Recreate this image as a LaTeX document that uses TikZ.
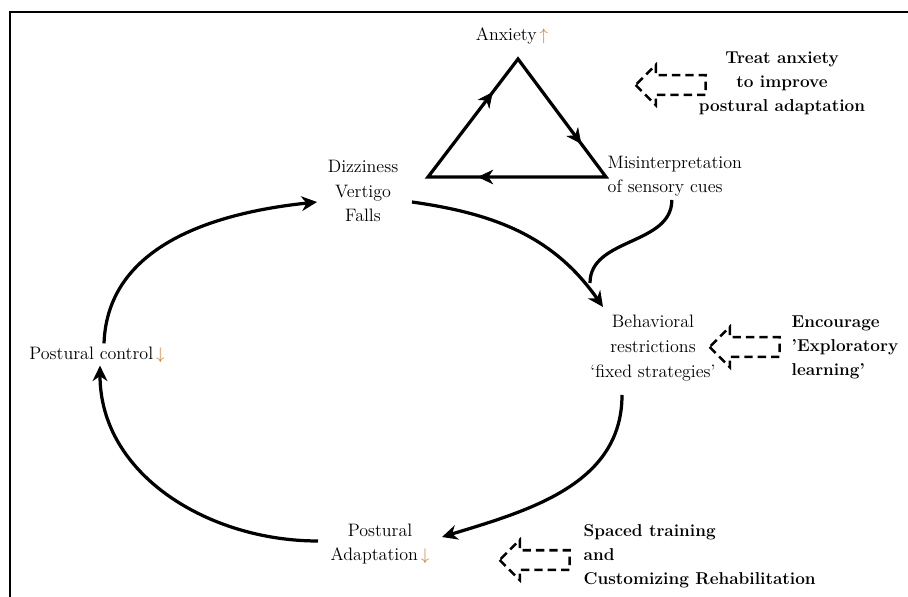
\documentclass[tikz,border=0pt]{standalone}
\usetikzlibrary{calc,arrows.meta,shapes.arrows,decorations.markings}
\definecolor{trendorange}{RGB}{200,120,45}
\newcommand{\trendup}{\textcolor{trendorange}{$\uparrow$}}
\newcommand{\trenddown}{\textcolor{trendorange}{$\downarrow$}}
\tikzset{
  lbl/.style={font=\fontsize{12.8}{17.5}\selectfont, align=center, inner sep=1pt},
  advice/.style={font=\fontsize{12.2}{17}\selectfont\bfseries, inner sep=1pt},
  cyc/.style={line width=2.3pt, -{Stealth[length=11pt,width=10.5pt,inset=3.5pt]}},
  triline/.style={line width=2.3pt, line join=miter},
  midarrow/.style={decoration={markings, mark=at position 0.72 with {\arrow{Stealth[length=11pt,width=10.5pt,inset=3.5pt]}}}, postaction=decorate},
  hintarrow/.style={shape=single arrow, shape border rotate=180, draw, line width=1.8pt,
    dash pattern=on 6pt off 3.5pt, inner xsep=0pt, inner ysep=0.2125cm,
    minimum height=1.75cm, single arrow head extend=0.26cm, single arrow head indent=0pt},
  edgeframe/.style={line width=1.9pt}
}

\begin{document}
\begin{tikzpicture}[x=0.025cm, y=0.025cm]
  \useasboundingbox (0,0) rectangle (908,-597);
  \draw[edgeframe] (10,-597) |- (908,-12);

  % the anxiety triangle
  \coordinate (ta) at (518,-59);
  \coordinate (tl) at (428,-177);
  \coordinate (tr) at (606,-177);
  \draw[triline] (tl) -- (ta) -- (tr) -- cycle;
  \foreach \a/\b in {tl/ta, ta/tr, tr/tl}
    \path[midarrow] (\a) -- (\b);

  \node[lbl] (anx) at (512,-36) {Anxiety\,\trendup};
  \node[lbl, align=left, anchor=west] (misint) at (606,-176) {Misinterpretation\\of sensory cues};
  \node[lbl] (dizzy) at (363,-191) {Dizziness\\Vertigo\\Falls};
  \node[lbl] (behav) at (653,-348) {Behavioral\\restrictions\\`fixed strategies'};
  \node[lbl] (ctrl) at (97,-355) {Postural control\,\trenddown};
  \node[lbl] (adapt) at (380,-544) {Postural\\Adaptation\,\trenddown};

  % the vicious circle
  \draw[cyc] ($(adapt)+(-62,3)$) to[out=180,in=-90] ($(ctrl.south)+(3,-1)$);
  \draw[cyc] ($(ctrl.north)+(7,2)$) to[out=88,in=186] ($(dizzy)+(-46,-11)$);
  \draw[cyc] ($(dizzy)+(49,-11)$) to[out=-8,in=125] ($(behav)+(-50,41)$);
  \draw[cyc] ($(behav)+(-31,-47)$) to[out=-90,in=17] ($(adapt)+(62,7)$);
  \coordinate (join) at (590,-283);
  \draw[line width=2.3pt] ($(misint.south)+(-3,-2)$) to[out=-90,in=90] (join);

  % therapy hints
  \node[hintarrow] (h1) at (675.5,-85) {};
  \node[hintarrow] (h2) at (749.5,-347) {};
  \node[hintarrow] (h3) at (539.5,-560) {};
  \node[advice, align=center] (a1) at (782,-83) {Treat anxiety\\to improve\\postural adaptation};
  \node[advice, align=left, anchor=west] (a2) at (790,-347) {Encourage\\'Exploratory\\learning'};
  \node[advice, align=left, anchor=west] (a3) at (582,-556) {Spaced training\\and\\Customizing Rehabilitation};
\end{tikzpicture}
\end{document}
